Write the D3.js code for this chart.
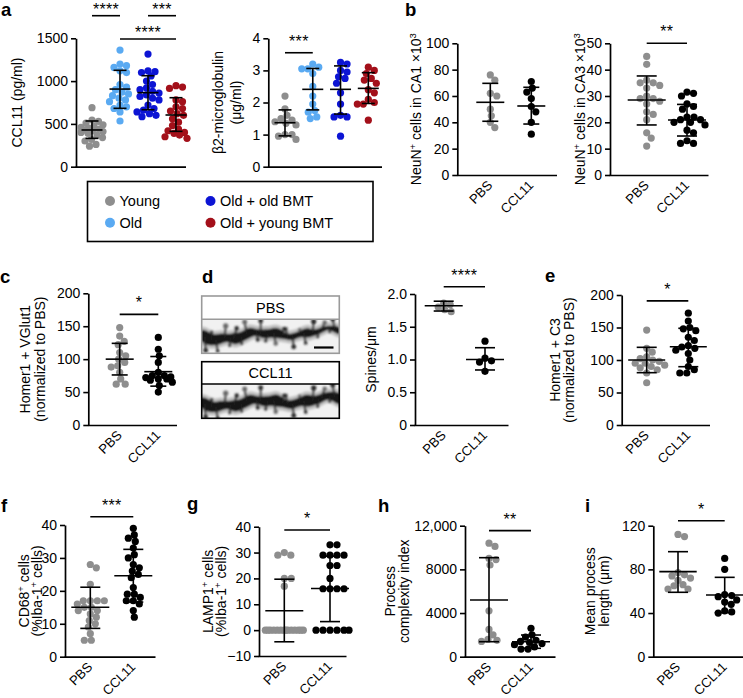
<!DOCTYPE html>
<html><head><meta charset="utf-8">
<script src="https://cdn.jsdelivr.net/npm/d3@7"></script>
<style>body{margin:0;background:#fff} svg{display:block}</style>
</head><body><svg id="fig" width="743" height="698"></svg>
<script>
// ---------------- DATA ----------------
const groupsA = ["Young", "Old", "Old + old BMT", "Old + young BMT"];
const groupsPC = ["PBS", "CCL11"];

// a: CCL11 (pg/ml)
const ccl11Young    = [689,545,530,510,490,470,460,450,440,430,420,410,400,390,370,340,320,300,260,240];
const ccl11Old      = [1363,1200,1180,1160,1120,1100,960,930,900,870,850,830,800,780,760,720,700,680,640,534];
const ccl11OldOld   = [1316,1120,1110,1100,1060,1000,960,920,900,880,860,840,820,800,780,720,680,660,640,620,600,584];
const ccl11OldYoung = [946,930,915,780,760,700,680,650,620,600,560,520,480,440,420,400,390,370,350,331];
const ccl11Stats    = [[429,331,534],[907,682,1126],[865,666,1063],[604,413,806]]; // mean, lower, upper
const ccl11Ticks = [0,500,1000,1500];
const ccl11TickLabels = ["0","500","1000","1500"];

// a: beta2-microglobulin (ug/ml)
const b2mYoung    = [2.2,1.8,1.6,1.5,1.45,1.4,1.35,1.3,1.0,1.0,0.95,0.85];
const b2mOld      = [3.2,3.1,3.05,3.05,2.9,2.5,2.2,1.95,1.75,1.7,1.55,1.5];
const b2mOldOld   = [3.25,3.2,3.0,2.95,2.8,2.75,2.6,2.3,1.95,1.6,1.55,1.55,0.95];
const b2mOldYoung = [3.1,3.0,2.9,2.75,2.7,2.6,2.4,2.3,2.1,2.0,1.95,1.95,1.45];
const b2mStats    = [[1.37,0.96,1.77],[2.41,1.77,3.06],[2.41,1.64,3.14],[2.44,1.97,2.93]];
const b2mTicks = [0,1,2,3,4];
const b2mTickLabels = ["0","1","2","3","4"];

// b: NeuN+ CA1
const ca1PBS = [76,72,62,60,50,45,40,36];
const ca1CCL11 = [71,66,63,58,52,48,40,31];
const ca1Stats = [[55.2,40.8,69.6],[52.4,38.7,66.6]];
const ca1Ticks = [0,20,40,60,80,100];
const ca1TickLabels = ["0","20","40","60","80","100"];

// b: NeuN+ CA3
const ca3PBS = [45,42,36,35,35,34,33,30,29,29,28,27,24,23,21,16,14,11];
const ca3CCL11 = [31.5,31,30,27,26,25,22,22,21,21,20,20,19,17,16,13,12,12];
const ca3Stats = [[28.5,19,37.6],[20.9,14.8,26.8]];
const ca3Ticks = [0,10,20,30,40,50];
const ca3TickLabels = ["0","10","20","30","40","50"];

// c: Homer1 + VGlut1
const vglutPBS = [148,135,127,122,110,105,100,95,90,88,80,70,62,62];
const vglutCCL11 = [133,115,105,95,80,75,75,73,72,70,70,68,65,60,50];
const vglutStats = [[100,76,124],[81,59,104]];
const pctTicks = [0,50,100,150,200];
const pctTickLabels = ["0","50","100","150","200"];

// d: spines/um
const spinePBS = [1.86,1.84,1.80,1.76,1.73];
const spineCCL11 = [1.28,1.02,0.98,0.96,0.82];
const spineStats = [[1.82,1.74,1.89],[1.00,0.84,1.18]];
const spineTicks = [0,0.5,1.0,1.5,2.0];
const spineTickLabels = ["0","0.5","1.0","1.5","2.0"];

// e: Homer1 + C3
const c3PBS = [146,118,112,105,102,100,98,95,95,92,90,88,85,80,65];
const c3CCL11 = [172,160,150,148,145,135,130,122,120,118,115,110,100,90,85,80,80];
const c3Stats = [[100,80.5,119.5],[120.5,89.7,148.8]];

// f: CD68+
const cd68PBS = [28,27,22,17,17,17,17,16,15,15,14,14,13,12,11,10,9,7,5,5];
const cd68CCL11 = [39,37,36,35,33,31,30,28,27,26,25,24,21,19,19,18,17,17,16,14,12];
const cd68Stats = [[15,8.6,21.1],[24.6,16.6,32.6]];
const cd68Ticks = [0,10,20,30,40];
const cd68TickLabels = ["0","10","20","30","40"];

// g: LAMP1+
const lampPBS = [30,29,29,20,20,17,0,0,0,0,0,0,0,0,0,0,0,0,0,0];
const lampCCL11 = [33,33,29,29,29,29,25,25,20,16,16,16,16,0,0,0,0,0,0];
const lampStats = [[7.5,-4.5,19.7],[16.1,3.3,28.6]];
const lampTicks = [-10,0,10,20,30,40];
const lampTickLabels = ["\u221210","0","10","20","30","40"];

// h: process complexity index
const pciPBS = [10400,10100,9000,8900,8400,4200,2500,2000,1600,1500,1400];
const pciCCL11 = [2600,2000,1800,1500,1400,1300,1200,1100,900,700,700];
const pciStats = [[5193,1374,9070],[1374,770,1986]];
const pciTicks = [0,4000,8000,12000];
const pciTickLabels = ["0","4000","8000","12,000"];

// i: mean process length
const mplPBS = [112,110,77,75,74,72,70,66,65,62,62];
const mplCCL11 = [90,80,57,56,55,52,50,48,42,41,40];
const mplStats = [[77.9,59,96.2],[56.5,40.3,72.7]];
const mplTicks = [0,40,80,120];
const mplTickLabels = ["0","40","80","120"];

// ---------------- STYLE ----------------
const FONT = '"Liberation Sans", Arial, Helvetica, sans-serif';
const colA = ["#8e8e8e", "#5aaaf2", "#0c14d4", "#a3101a"];
const colPC = ["#8e8e8e", "#000000"];

const svg = d3.select("#fig").attr("font-family", FONT);

function richText(sel, str) {
  const parts = str.split(/(\{[^}]*\})/).filter(s => s.length);
  let lastSup = false;
  parts.forEach(pt => {
    if (pt.startsWith("{")) {
      sel.append("tspan").attr("dy", -5.5).attr("font-size", "0.68em").text(pt.slice(1, -1));
      lastSup = true;
    } else {
      const t = sel.append("tspan").text(pt);
      if (lastSup) t.attr("dy", 5.5);
      lastSup = false;
    }
  });
}

function beeswarm(ys, r, maxHalf) {
  const order = ys.map((y, i) => ({ y, i })).sort((a, b) => a.y - b.y);
  const placed = [];
  const dmin = (2 * r * 0.92) ** 2;
  const cands = [0];
  for (let k = 0.5; k <= maxHalf; k += 0.5) cands.push(k, -k);
  order.forEach(pt => {
    let best = 0, bestScore = -1;
    for (const dx of cands) {
      let m = Infinity;
      for (const q of placed) {
        const dd = (q.dx - dx) ** 2 + (q.y - pt.y) ** 2;
        if (dd < m) m = dd;
      }
      if (m >= dmin) { best = dx; break; }
      if (m > bestScore) { bestScore = m; best = dx; }
    }
    placed.push({ y: pt.y, dx: best });
  });
  return placed;
}

function drawPanel(p) {
  const g = svg.append("g");
  const y = d3.scaleLinear().domain([p.ticks[0], p.ticks[p.ticks.length - 1]]).range([p.yBottom, p.yTop]);
  const x = d3.scalePoint().domain(p.cats).range(p.centers);
  const yAxis = d3.axisLeft(y).tickValues(p.ticks).tickFormat((d, i) => p.tickLabels[i])
    .tickSize(5).tickSizeOuter(0).tickPadding(3);
  const ya = g.append("g").attr("transform", `translate(${p.axisX},0)`).call(yAxis);
  ya.select(".domain").attr("stroke", "#000").attr("stroke-width", 1.7);
  ya.selectAll(".tick line").attr("stroke", "#000").attr("stroke-width", 1.6);
  ya.selectAll(".tick text").attr("font-size", 14).attr("font-family", FONT).attr("fill", "#000");
  const baseY = y(p.ticks[0]);
  g.append("line").attr("x1", p.axisX - 0.4).attr("x2", p.axisEnd)
    .attr("y1", baseY + 0.5).attr("y2", baseY + 0.5).attr("stroke", "#000").attr("stroke-width", 1.7);

  // x labels
  if (p.xLabels) {
    p.cats.forEach(c => {
      g.append("text").attr("transform", `translate(${x(c) + 3},${baseY + 11}) rotate(-45)`)
        .attr("text-anchor", "end").attr("font-size", 13.2).text(c);
    });
  }
  // dots
  p.series.forEach((vals, i) => {
    const cx = x(p.cats[i]);
    const pts = beeswarm(vals.map(v => y(v)), p.r, p.spread);
    g.append("g").selectAll("circle").data(pts).enter().append("circle")
      .attr("cx", d => cx + d.dx).attr("cy", d => d.y).attr("r", p.r).attr("fill", p.colors[i]);
  });
  // mean +- SD
  p.stats.forEach((s, i) => {
    const cx = x(p.cats[i]);
    const [m, lo, hi] = s;
    const st = gg => gg.attr("stroke", "#000").attr("stroke-width", 1.6);
    st(g.append("line").attr("x1", cx - p.meanHalf).attr("x2", cx + p.meanHalf).attr("y1", y(m)).attr("y2", y(m)));
    st(g.append("line").attr("x1", cx).attr("x2", cx).attr("y1", y(lo)).attr("y2", y(hi)));
    st(g.append("line").attr("x1", cx - p.capHalf).attr("x2", cx + p.capHalf).attr("y1", y(lo)).attr("y2", y(lo)));
    st(g.append("line").attr("x1", cx - p.capHalf).attr("x2", cx + p.capHalf).attr("y1", y(hi)).attr("y2", y(hi)));
  });
  // significance
  (p.sig || []).forEach(s => {
    const x1 = x(p.cats[s.from]), x2 = x(p.cats[s.to]);
    const ly = y(s.level);
    g.append("line").attr("x1", x1).attr("x2", x2).attr("y1", ly).attr("y2", ly)
      .attr("stroke", "#000").attr("stroke-width", 1.6);
    g.append("text").attr("x", (x1 + x2) / 2).attr("y", ly - s.gap).attr("text-anchor", "middle")
      .attr("font-size", 16).attr("letter-spacing", 0.3).text(s.label);
  });
  // y title
  const cy = (p.yTop + p.yBottom) / 2;
  p.title.forEach((t, i) => {
    const tx = g.append("text").attr("transform", `translate(${p.titleX[i]},${cy}) rotate(-90)`)
      .attr("text-anchor", "middle").attr("font-size", 14);
    richText(tx, t);
  });
  return { x, y };
}

// ---------------- PANELS ----------------
drawPanel({ cats: groupsA, centers: [92, 176], axisX: 76, axisEnd: 186, yTop: 38.3, yBottom: 166.7,
  ticks: ccl11Ticks, tickLabels: ccl11TickLabels, series: [ccl11Young, ccl11Old, ccl11OldOld, ccl11OldYoung],
  stats: ccl11Stats, colors: colA, r: 3.6, spread: 11, meanHalf: 10.5, capHalf: 6.5,
  sig: [{from:0,to:1,level:1764,label:"****",gap:1},{from:2,to:3,level:1764,label:"***",gap:1},{from:1,to:3,level:1492,label:"****",gap:1}],
  title: ["CCL11 (pg/ml)"], titleX: [22] });

drawPanel({ cats: groupsA, centers: [285, 368.3], axisX: 268.3, axisEnd: 382, yTop: 38.3, yBottom: 166.7,
  ticks: b2mTicks, tickLabels: b2mTickLabels, series: [b2mYoung, b2mOld, b2mOldOld, b2mOldYoung],
  stats: b2mStats, colors: colA, r: 3.6, spread: 11, meanHalf: 10.5, capHalf: 6.5,
  sig: [{from:0,to:1,level:3.55,label:"***",gap:6}],
  title: ["\u03b22-microglobulin", "(\u03bcg/ml)"], titleX: [223, 241] });

drawPanel({ cats: groupsPC, centers: [490.3, 531.3], axisX: 457.3, axisEnd: 557, yTop: 43.3, yBottom: 175,
  ticks: ca1Ticks, tickLabels: ca1TickLabels, series: [ca1PBS, ca1CCL11], xLabels: true,
  stats: ca1Stats, colors: colPC, r: 3.6, spread: 13, meanHalf: 14, capHalf: 8,
  title: ["NeuN{+} cells in CA1 \u00d710{3}"], titleX: [421] });

drawPanel({ cats: groupsPC, centers: [646.7, 687], axisX: 610, axisEnd: 708.5, yTop: 43.3, yBottom: 175,
  ticks: ca3Ticks, tickLabels: ca3TickLabels, series: [ca3PBS, ca3CCL11], xLabels: true,
  stats: ca3Stats, colors: colPC, r: 3.6, spread: 19, meanHalf: 19, capHalf: 10,
  sig: [{from:0,to:1,level:50,label:"**",gap:6}],
  title: ["NeuN{+} cells in CA3 \u00d710{3}"], titleX: [585] });

drawPanel({ cats: groupsPC, centers: [119.7, 158.3], axisX: 88.3, axisEnd: 177, yTop: 293.3, yBottom: 425,
  ticks: pctTicks, tickLabels: pctTickLabels, series: [vglutPBS, vglutCCL11], xLabels: true,
  stats: vglutStats, colors: colPC, r: 3.6, spread: 14, meanHalf: 14, capHalf: 8,
  sig: [{from:0,to:1,level:168,label:"*",gap:6}],
  title: ["Homer1 + VGlut1", "(normalized to PBS)"], titleX: [30, 45] });

drawPanel({ cats: groupsPC, centers: [443.7, 485], axisX: 415, axisEnd: 508.5, yTop: 294, yBottom: 425,
  ticks: spineTicks, tickLabels: spineTickLabels, series: [spinePBS, spineCCL11], xLabels: true,
  stats: spineStats, colors: colPC, r: 3.6, spread: 12, meanHalf: 19, capHalf: 10,
  sig: [{from:0,to:1,level:2.11,label:"****",gap:6}],
  title: ["Spines/\u03bcm"], titleX: [376] });

drawPanel({ cats: groupsPC, centers: [646.7, 688.3], axisX: 621.7, axisEnd: 710, yTop: 295, yBottom: 425,
  ticks: pctTicks, tickLabels: pctTickLabels, series: [c3PBS, c3CCL11], xLabels: true,
  stats: c3Stats, colors: colPC, r: 3.6, spread: 18, meanHalf: 18.5, capHalf: 10,
  sig: [{from:0,to:1,level:191,label:"*",gap:6}],
  title: ["Homer1 + C3", "(normalized to PBS)"], titleX: [560, 574] });

drawPanel({ cats: groupsPC, centers: [90.3, 133.3], axisX: 65, axisEnd: 155.5, yTop: 525, yBottom: 656.7,
  ticks: cd68Ticks, tickLabels: cd68TickLabels, series: [cd68PBS, cd68CCL11], xLabels: true,
  stats: cd68Stats, colors: colPC, r: 3.6, spread: 18, meanHalf: 19, capHalf: 10,
  sig: [{from:0,to:1,level:42.5,label:"***",gap:6}],
  title: ["CD68{+} cells", "(%Iba-1{+} cells)"], titleX: [29, 42] });

drawPanel({ cats: groupsPC, centers: [284.3, 330], axisX: 259, axisEnd: 346.5, yTop: 526.7, yBottom: 656,
  ticks: lampTicks, tickLabels: lampTickLabels, series: [lampPBS, lampCCL11], xLabels: true,
  stats: lampStats, colors: colPC, r: 3.6, spread: 19, meanHalf: 19, capHalf: 10,
  sig: [{from:0,to:1,level:38.7,label:"*",gap:6}],
  title: ["LAMP1{+} cells", "(%Iba-1{+} cells)"], titleX: [213, 226] });

drawPanel({ cats: groupsPC, centers: [489, 531], axisX: 465, axisEnd: 555.5, yTop: 525.7, yBottom: 656.7,
  ticks: pciTicks, tickLabels: pciTickLabels, series: [pciPBS, pciCCL11], xLabels: true,
  stats: pciStats, colors: colPC, r: 3.6, spread: 19, meanHalf: 19, capHalf: 10,
  sig: [{from:0,to:1,level:11550,label:"**",gap:6}],
  title: ["Process", "complexity index"], titleX: [395, 409] });

drawPanel({ cats: groupsPC, centers: [678, 724.7], axisX: 653.3, axisEnd: 743, yTop: 525.7, yBottom: 656.7,
  ticks: mplTicks, tickLabels: mplTickLabels, series: [mplPBS, mplCCL11], xLabels: true,
  stats: mplStats, colors: colPC, r: 3.6, spread: 19, meanHalf: 18.7, capHalf: 10,
  sig: [{from:0,to:1,level:124.5,label:"*",gap:6}],
  title: ["Mean process", "length (\u03bcm)"], titleX: [595, 609] });

// ---------------- LEGEND ----------------
const lg = svg.append("g");
lg.append("rect").attr("x", 87.5).attr("y", 181.5).attr("width", 285.5).attr("height", 60)
  .attr("fill", "none").attr("stroke", "#000").attr("stroke-width", 1.6);
const legPos = [[110, 201], [110, 222.7], [210.5, 201], [210.5, 222.7]];
groupsA.forEach((gname, i) => {
  lg.append("circle").attr("cx", legPos[i][0]).attr("cy", legPos[i][1]).attr("r", 5).attr("fill", colA[i]);
  lg.append("text").attr("x", legPos[i][0] + 9.5).attr("y", legPos[i][1] + 5.2).attr("font-size", 14.5).text(gname);
});

// ---------------- PANEL LABELS ----------------
[["a",1,16],["b",405,16],["c",0,283],["d",202,283],["e",545,282],["f",1,512],["g",187,510],["h",378,512],["i",585,512]]
  .forEach(([t, lx, ly]) => svg.append("text").attr("x", lx).attr("y", ly).attr("font-size", 18.5)
    .attr("font-weight", "bold").text(t));

// ---------------- PANEL d MICROGRAPHS ----------------
const defs = svg.append("defs");
defs.append("filter").attr("id", "blur").append("feGaussianBlur").attr("stdDeviation", 1.15);
// fixed spine pattern: [step, length, side, head radius, lean]
const spinePattern = [[5,5,-1,2.0,-2],[7,7,1,2.4,1],[4,2,-1,1.5,0],[9,6,1,1.8,2],[6,8,-1,2.6,1],[3,3,1,1.4,-1],
  [8,5,-1,2.2,3],[5,2,1,1.3,0],[10,7,-1,2.5,-2],[4,4,1,2.0,1],[7,9,-1,2.4,0],[6,3,1,1.6,-2],[9,6,1,2.2,2],[5,3,-1,1.5,1]];
function micro(box, strokeCol, label, y0, y1, w0, w1, id) {
  const gg = svg.append("g");
  gg.append("rect").attr("x", box.x).attr("y", box.y).attr("width", box.w).attr("height", box.h).attr("fill", "#fff");
  defs.append("clipPath").attr("id", id).append("rect").attr("x", box.x).attr("y", box.y + box.hh)
    .attr("width", box.w).attr("height", box.h - box.hh);
  const clip = gg.append("g").attr("clip-path", `url(#${id})`);
  clip.append("rect").attr("x", box.x).attr("y", box.y + box.hh).attr("width", box.w).attr("height", box.h - box.hh)
    .attr("fill", "#f1f1f1");
  const img = clip.append("g").attr("filter", "url(#blur)");
  const cyAt = px => { const t = (px - box.x) / box.w; return y0 + (y1 - y0) * t + 2.4 * Math.sin(px / 11) + 1.2 * Math.sin(px / 4.1); };
  const wAt = px => { const t = (px - box.x) / box.w; return w0 + (w1 - w0) * t + 1.6 * Math.sin(px / 5.3) + 0.8 * Math.sin(px / 2.3); };
  const xs = d3.range(box.x - 4, box.x + box.w + 6, 2);
  const area = d3.area().x(d => d).y0(d => cyAt(d) - wAt(d) / 2).y1(d => cyAt(d) + wAt(d) / 2).curve(d3.curveBasis);
  const halo = d3.area().x(d => d).y0(d => cyAt(d) - wAt(d) / 2 - 3.5).y1(d => cyAt(d) + wAt(d) / 2 + 3.5).curve(d3.curveBasis);
  img.append("path").attr("d", halo(xs)).attr("fill", "#8a8a8a").attr("opacity", 0.5);
  img.append("path").attr("d", area(xs)).attr("fill", "#121212");
  let px = box.x - 2, k = 0;
  while (px < box.x + box.w + 4) {
    const [step, L, side, hr, lean] = spinePattern[k % spinePattern.length];
    const cy = cyAt(px), hw = wAt(px) / 2;
    const ex = px + lean, ey = cy + side * (hw + L);
    img.append("line").attr("x1", px).attr("y1", cy).attr("x2", ex).attr("y2", ey)
      .attr("stroke", "#202020").attr("stroke-width", 1.7).attr("stroke-linecap", "round");
    img.append("circle").attr("cx", ex).attr("cy", ey).attr("r", hr).attr("fill", k % 4 === 0 ? "#666" : "#262626");
    px += step; k++;
  }
  gg.append("line").attr("x1", box.x).attr("x2", box.x + box.w).attr("y1", box.y + box.hh).attr("y2", box.y + box.hh)
    .attr("stroke", strokeCol).attr("stroke-width", 1.6);
  gg.append("rect").attr("x", box.x).attr("y", box.y).attr("width", box.w).attr("height", box.h)
    .attr("fill", "none").attr("stroke", strokeCol).attr("stroke-width", 1.6);
  gg.append("text").attr("x", box.x + box.w / 2).attr("y", box.y + box.hh / 2 + 5.2).attr("text-anchor", "middle")
    .attr("font-size", 14.5).text(label);
  return gg;
}
const pbsImg = micro({ x: 201.7, y: 296, w: 137.6, h: 57.3, hh: 23.3 }, "#9a9a9a", "PBS", 338, 331, 11, 5, "clipP");
pbsImg.append("line").attr("x1", 314).attr("x2", 333.5).attr("y1", 347.5).attr("y2", 347.5)
  .attr("stroke", "#000").attr("stroke-width", 2.2);
micro({ x: 201.7, y: 361.7, w: 137.6, h: 56.6, hh: 22.3 }, "#000", "CCL11", 405, 399, 10, 9, "clipC");
</script></body></html>
